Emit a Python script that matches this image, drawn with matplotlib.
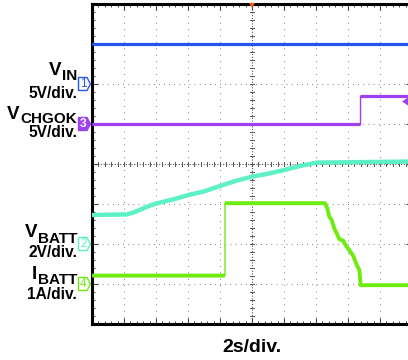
import numpy as np
import matplotlib
matplotlib.use('Agg')
import matplotlib.pyplot as plt
from matplotlib.patches import Polygon

# ---- data (time in s, values in V / A) ----
t_vin = [-10.0, -1.7, -1.7, 9.75]
v_vin = [5.0, 5.0, 4.96, 4.96]

t_chgok = [-10.0, 6.77, 6.77, 9.75]
v_chgok = [0.0, 0.0, 3.54, 3.54]

t_vbatt = [-10.0, -7.83, -7.42, -6.38, -5.96, -4.92, -3.98, -3.04, -2.0, -1.17,
           0.0, 0.92, 2.02, 3.0, 4.04, 9.75]
v_vbatt = [1.45, 1.48, 1.57, 1.92, 2.03, 2.23, 2.45, 2.62, 2.9, 3.12,
           3.37, 3.5, 3.7, 3.9, 4.07, 4.12]

t_ibatt = [-10.0, -1.69, -1.69, 4.56, 4.71, 4.83, 4.98, 5.14, 5.29, 5.46, 5.71,
           5.88, 6.08, 6.33, 6.54, 6.71, 6.79, 9.75]
i_ibatt = [0.21, 0.21, 2.02, 2.02, 1.89, 1.68, 1.6, 1.39, 1.27, 1.12, 1.08,
           0.95, 0.85, 0.7, 0.48, 0.35, -0.03, -0.03]

channel_names = ["IN", "CHGOK", "BATT", "BATT"]
channel_prefix = ["V", "V", "V", "I"]
channel_scales = ["5V/div.", "5V/div.", "2V/div.", "1A/div."]
time_label = "2s/div."

# display settings (scope offsets in divisions, scale per division)
scale = {'1': 5.0, '2': 2.0, '3': 5.0, '4': 1.0}
offset = {'1': 2.0, '2': -2.0, '3': 1.0, '4': -3.0}
colors = {'1': '#2456ee', '2': '#5ef0c6', '3': '#a040f0', '4': '#6eec10'}

W, H = 408, 360
fig = plt.figure(figsize=(W / 100, H / 100), dpi=100)
fig.patch.set_facecolor('white')

# axes: pixel box left=92, right=412 (beyond figure), top=4, bottom=324
ax = fig.add_axes([92 / W, (H - 324) / H, 320 / W, 320 / H])
ax.set_xlim(-10, 10)
ax.set_ylim(-4, 4)

# grid (dotted)
for xv in np.arange(-8, 10, 2):
    if xv == 0:
        continue
    ax.plot([xv, xv], [-4, 4], color='#707070', lw=0.8,
            linestyle=(0, (0.7, 5.06)), zorder=1)
for yv in np.arange(-3, 4, 1):
    if yv == 0:
        continue
    ax.plot([-10, 10], [yv, yv], color='#707070', lw=0.8,
            linestyle=(0, (0.7, 3.9)), zorder=1)
# centre lines with small ticks
ax.plot([0, 0], [-4, 4], color='#555555', lw=0.8, linestyle=(0, (1, 1.5)), zorder=1)
ax.plot([-10, 10], [0, 0], color='#555555', lw=0.8, linestyle=(0, (1, 1.5)), zorder=1)
for xv in np.arange(-10, 10.01, 0.4):
    ax.plot([xv, xv], [-0.06, 0.06], color='#555555', lw=0.7, zorder=1)
for yv in np.arange(-4, 4.01, 0.2):
    ax.plot([-0.12, 0.12], [yv, yv], color='#555555', lw=0.7, zorder=1)

# border ticks
ax.set_xticks(np.arange(-10, 11, 2))
ax.set_xticks(np.arange(-10, 10.01, 0.4), minor=True)
ax.set_yticks(np.arange(-4, 5, 1))
ax.set_yticks(np.arange(-4, 4.01, 0.2), minor=True)
ax.tick_params(which='both', direction='in', top=True, right=True,
               labelbottom=False, labelleft=False, color='#444444')
ax.tick_params(which='major', length=4, width=0.8)
ax.tick_params(which='minor', length=2.5, width=0.7)
for s in ax.spines.values():
    s.set_linewidth(2.2)
    s.set_color('black')

def disp(ch, vals):
    return [offset[ch] + v / scale[ch] for v in vals]

def trace(t, y, color, lw, z):
    # fast edges (vertical jumps) drawn thin, the rest thick
    ax.plot(t, y, color=color, lw=1.0, zorder=z)
    tt, yy = [], []
    for i in range(len(t)):
        if i > 0 and t[i] == t[i - 1]:
            tt.append(np.nan)
            yy.append(np.nan)
        tt.append(t[i])
        yy.append(y[i])
    ax.plot(tt, yy, color=color, lw=lw, zorder=z, solid_capstyle='butt')

trace(t_vin, disp('1', v_vin), colors['1'], 2.3, 3)
trace(t_chgok, disp('3', v_chgok), colors['3'], 2.3, 3)
trace(t_vbatt, disp('2', v_vbatt), colors['2'], 3.2, 3)
trace(t_ibatt, disp('4', i_ibatt), colors['4'], 2.8, 4)

# ---- helpers in figure pixels (y from top) ----
def fx(x):
    return x / W

def fy(y):
    return 1 - y / H

renderer = fig.canvas.get_renderer()
fam = ['Liberation Sans', 'DejaVu Sans']

def label(prefix, sub, scale_txt, y_main, y_sub, y_scale, x_right=77):
    t1 = fig.text(fx(x_right), fy(y_sub), sub, ha='right', va='baseline',
                  fontsize=11, fontweight='bold', family=fam)
    bb = t1.get_window_extent(renderer)
    fig.text(fx(bb.x0 - 0.5), fy(y_main), prefix, ha='right', va='baseline',
             fontsize=13.5, fontweight='bold', family=fam)
    fig.text(fx(x_right), fy(y_scale), scale_txt, ha='right', va='baseline',
             fontsize=11.2, fontweight='bold', family=fam)

ys = [(75, 80, 98), (119, 123, 137), (237, 243, 257), (279, 284, 299)]
for p, s, sc, (a, b, c) in zip(channel_prefix, channel_names, channel_scales, ys):
    label(p, s, sc, a, b, c)

fig.text(fx(252), fy(352), time_label, ha='center', va='baseline',
         fontsize=14, fontweight='bold', family=fam)

# channel markers
def marker(ch, ycen, filled):
    x0, x1, x2 = 78.5, 87, 90.5
    h = 6.5
    pts = [(x0, ycen - h), (x1, ycen - h), (x2, ycen), (x1, ycen + h), (x0, ycen + h)]
    pts = [(fx(a), fy(b)) for a, b in pts]
    poly = Polygon(pts, closed=True, transform=fig.transFigure,
                   facecolor=colors[ch] if filled else 'white',
                   edgecolor=colors[ch], lw=1.0, zorder=5)
    fig.add_artist(poly)
    fig.text(fx(83.2), fy(ycen + 0.3), ch, ha='center', va='center', fontsize=8.5,
             fontweight='bold' if filled else 'normal',
             color='white' if filled else colors[ch], family=fam, zorder=6)

def ypix(ch):
    return 164 - offset[ch] * 40

marker('1', ypix('1'), False)
marker('3', ypix('3'), True)
marker('2', ypix('2'), False)
marker('4', ypix('4'), False)

# trigger position marker (top centre, orange)
tri = Polygon([(fx(249), fy(3)), (fx(255), fy(3)), (fx(252), fy(8))], closed=True,
              transform=fig.transFigure, facecolor='#ff5a00', edgecolor='none', zorder=6)
fig.add_artist(tri)
# trigger level marker (right edge, purple)
tl = Polygon([(fx(402), fy(101.5)), (fx(408), fy(97.5)), (fx(408), fy(105.5))], closed=True,
             transform=fig.transFigure, facecolor=colors['3'], edgecolor='none', zorder=6)
fig.add_artist(tl)

fig.savefig('out.png', dpi=100, facecolor='white')
